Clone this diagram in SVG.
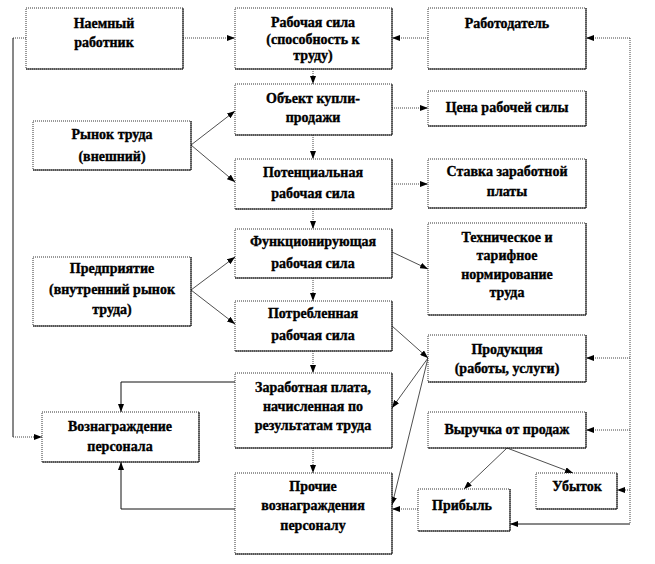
<svg xmlns="http://www.w3.org/2000/svg" width="655" height="564" viewBox="0 0 655 564">
<style>
.box{fill:#fff;stroke:#333;stroke-width:1;stroke-dasharray:1 1}
.edge{fill:none;stroke:#111;stroke-width:1}
.t text{font-family:"Liberation Serif","DejaVu Serif",serif;font-weight:bold;font-size:14px;fill:#000;stroke:#000;stroke-width:0.35;text-anchor:middle}
.dot{fill:none;stroke:#444;stroke-width:1;stroke-dasharray:1 1}
.sol{fill:none;stroke:#111;stroke-width:1}
.thin{fill:none;stroke:#222;stroke-width:0.8}
</style>
<defs>
<marker id="ah" markerWidth="8" markerHeight="6" refX="8" refY="3" orient="auto" markerUnits="userSpaceOnUse">
<path d="M0,0 L8,3 L0,6 z" fill="#000"/>
</marker>
</defs>
<rect width="655" height="564" fill="#fff"/>

<g id="connectors">
<path class="dot" d="M26,38 H13"/>
<path class="sol" d="M13,38 V437"/>
<path class="dot" d="M13,437 H42" marker-end="url(#ah)"/>
<path class="dot" d="M183,38 H235" marker-end="url(#ah)"/>
<path class="dot" d="M428,38 H392" marker-end="url(#ah)"/>
<path class="dot" d="M630,38 V524"/>
<path class="dot" d="M630,38 H586" marker-end="url(#ah)"/>
<path class="dot" d="M630,358 H586" marker-end="url(#ah)"/>
<path class="dot" d="M630,430 H586" marker-end="url(#ah)"/>
<path class="dot" d="M630,490 H617" marker-end="url(#ah)"/>
<path class="sol" d="M630,524 H510" marker-end="url(#ah)"/>
<path class="dot" d="M313,69 V84" marker-end="url(#ah)"/>
<path class="dot" d="M313,135 V159" marker-end="url(#ah)"/>
<path class="dot" d="M313,209 V229" marker-end="url(#ah)"/>
<path class="dot" d="M313,278 V301" marker-end="url(#ah)"/>
<path class="dot" d="M313,351 V373" marker-end="url(#ah)"/>
<path class="dot" d="M313,448 V473" marker-end="url(#ah)"/>
<path class="dot" d="M392,108 H428" marker-end="url(#ah)"/>
<path class="dot" d="M392,184 H428" marker-end="url(#ah)"/>
<path class="thin" d="M392,252 L428,269" marker-end="url(#ah)"/>
<path class="thin" d="M392,326 L428,358" marker-end="url(#ah)"/>
<path class="thin" d="M428,358 L392,408" marker-end="url(#ah)"/>
<path class="thin" d="M428,358 L392,505" marker-end="url(#ah)"/>
<path class="thin" d="M191,145 L235,111" marker-end="url(#ah)"/>
<path class="thin" d="M191,145 L235,182" marker-end="url(#ah)"/>
<path class="thin" d="M191,290 L235,257" marker-end="url(#ah)"/>
<path class="thin" d="M191,290 L235,324" marker-end="url(#ah)"/>
<path class="sol" d="M235,382 H121 V412" marker-end="url(#ah)"/>
<path class="sol" d="M235,509 H121 V462" marker-end="url(#ah)"/>
<path class="thin" d="M507,448 L464,489" marker-end="url(#ah)"/>
<path class="thin" d="M507,448 L573,473" marker-end="url(#ah)"/>
<path class="dot" d="M418,509 H392" marker-end="url(#ah)"/>
</g>

<g class="t">
<g id="n-naemny">
<rect class="box" x="26" y="8" width="157" height="61"/>
<path class="edge" d="M183,8 V69 H26"/>
<text x="104" y="28">Наемный</text>
<text x="104" y="47">работник</text>
</g>
<g id="n-rabsila">
<rect class="box" x="235" y="8" width="157" height="61"/>
<path class="edge" d="M392,8 V69 H235"/>
<text x="313" y="27">Рабочая сила</text>
<text x="313" y="44">(способность к</text>
<text x="313" y="60">труду)</text>
</g>
<g id="n-rabotodatel">
<rect class="box" x="428" y="8" width="158" height="61"/>
<path class="edge" d="M586,8 V69 H428"/>
<text x="507" y="28">Работодатель</text>
</g>
<g id="n-obekt">
<rect class="box" x="235" y="84" width="157" height="51"/>
<path class="edge" d="M392,84 V135 H235"/>
<text x="313" y="103">Объект купли-</text>
<text x="313" y="122">продажи</text>
</g>
<g id="n-cena">
<rect class="box" x="428" y="91" width="158" height="35"/>
<path class="edge" d="M586,91 V126 H428"/>
<text x="507" y="112">Цена рабочей силы</text>
</g>
<g id="n-rynok">
<rect class="box" x="33" y="121" width="158" height="49"/>
<path class="edge" d="M191,121 V170 H33"/>
<text x="112" y="139">Рынок труда</text>
<text x="112" y="161">(внешний)</text>
</g>
<g id="n-potenc">
<rect class="box" x="235" y="159" width="157" height="50"/>
<path class="edge" d="M392,159 V209 H235"/>
<text x="313" y="177">Потенциальная</text>
<text x="313" y="198">рабочая сила</text>
</g>
<g id="n-stavka">
<rect class="box" x="428" y="159" width="158" height="49"/>
<path class="edge" d="M586,159 V208 H428"/>
<text x="507" y="176">Ставка заработной</text>
<text x="507" y="196">платы</text>
</g>
<g id="n-funk">
<rect class="box" x="235" y="229" width="157" height="49"/>
<path class="edge" d="M392,229 V278 H235"/>
<text x="313" y="246">Функционирующая</text>
<text x="313" y="268">рабочая сила</text>
</g>
<g id="n-tehn">
<rect class="box" x="428" y="223" width="158" height="92"/>
<path class="edge" d="M586,223 V315 H428"/>
<text x="507" y="242">Техническое и</text>
<text x="507" y="260">тарифное</text>
<text x="507" y="279">нормирование</text>
<text x="507" y="297">труда</text>
</g>
<g id="n-predpr">
<rect class="box" x="33" y="257" width="158" height="69"/>
<path class="edge" d="M191,257 V326 H33"/>
<text x="112" y="273">Предприятие</text>
<text x="112" y="294">(внутренний рынок</text>
<text x="112" y="314">труда)</text>
</g>
<g id="n-potrebl">
<rect class="box" x="235" y="301" width="157" height="50"/>
<path class="edge" d="M392,301 V351 H235"/>
<text x="313" y="318">Потребленная</text>
<text x="313" y="340">рабочая сила</text>
</g>
<g id="n-produkciya">
<rect class="box" x="428" y="335" width="158" height="47"/>
<path class="edge" d="M586,335 V382 H428"/>
<text x="507" y="354">Продукция</text>
<text x="507" y="373">(работы, услуги)</text>
</g>
<g id="n-zarplata">
<rect class="box" x="235" y="373" width="157" height="75"/>
<path class="edge" d="M392,373 V448 H235"/>
<text x="313" y="392">Заработная плата,</text>
<text x="313" y="411">начисленная по</text>
<text x="313" y="430">результатам труда</text>
</g>
<g id="n-voznagr">
<rect class="box" x="42" y="412" width="157" height="50"/>
<path class="edge" d="M199,412 V462 H42"/>
<text x="120" y="431">Вознаграждение</text>
<text x="120" y="451">персонала</text>
</g>
<g id="n-vyruchka">
<rect class="box" x="428" y="412" width="158" height="36"/>
<path class="edge" d="M586,412 V448 H428"/>
<text x="507" y="434">Выручка от продаж</text>
</g>
<g id="n-prochie">
<rect class="box" x="235" y="473" width="157" height="81"/>
<path class="edge" d="M392,473 V554 H235"/>
<text x="313" y="491">Прочие</text>
<text x="313" y="510">вознаграждения</text>
<text x="313" y="530">персоналу</text>
</g>
<g id="n-pribyl">
<rect class="box" x="418" y="489" width="92" height="42"/>
<path class="edge" d="M510,489 V531 H418"/>
<text x="462" y="510">Прибыль</text>
</g>
<g id="n-ubytok">
<rect class="box" x="536" y="473" width="81" height="36"/>
<path class="edge" d="M617,473 V509 H536"/>
<text x="577" y="491">Убыток</text>
</g>
</g>
</svg>
